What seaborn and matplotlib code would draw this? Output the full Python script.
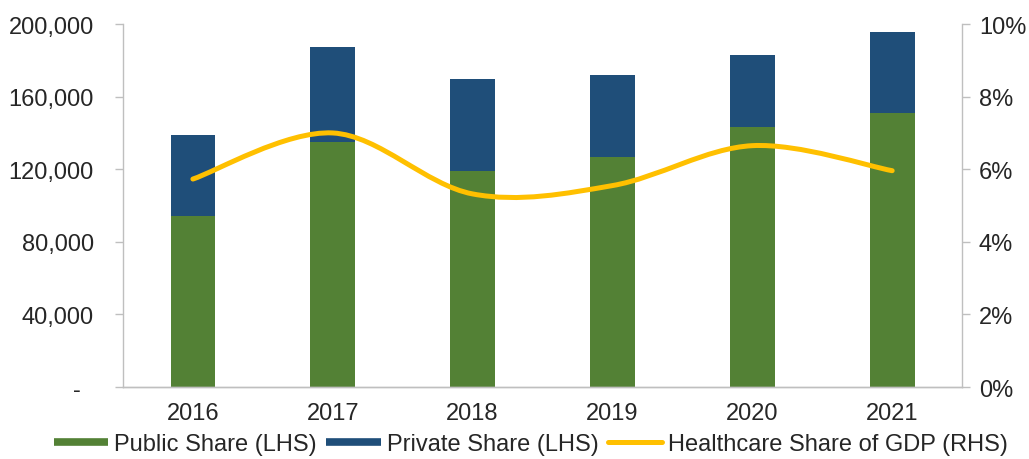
import numpy as np
import pandas as pd
import matplotlib
matplotlib.use("Agg")
import matplotlib.pyplot as plt
import seaborn as sns
from matplotlib.lines import Line2D
from matplotlib.path import Path
from matplotlib.patches import PathPatch
from matplotlib.ticker import FuncFormatter

# Healthcare expenditure split (LHS) and healthcare share of GDP (RHS)
years = ["2016", "2017", "2018", "2019", "2020", "2021"]
public_share = [94200, 134800, 119200, 126900, 143200, 150800]
private_share = [44600, 52500, 50500, 45000, 39700, 44600]
gdp_share = [5.73, 7.00, 5.32, 5.55, 6.65, 5.96]

GREEN = "#538135"
BLUE = "#1F4E79"
YELLOW = "#FFC000"
SPINE = "#BFBFBF"
TEXT = "#262626"
FS = 17

sns.set_theme(style="white")
plt.rcParams["font.family"] = ["Liberation Sans", "DejaVu Sans"]

fig = plt.figure(figsize=(10.29, 4.6), dpi=100)
ax = fig.add_axes([0.1195, 0.1565, 0.8155, 0.789])

df = pd.DataFrame({
    "year": years,
    "public": public_share,
    "total": np.add(public_share, private_share),
})

# stacked bars: full height in blue, public part drawn over it in green
sns.barplot(data=df, x="year", y="total", color=BLUE, width=0.32,
            saturation=1, linewidth=0, ax=ax)
sns.barplot(data=df, x="year", y="public", color=GREEN, width=0.32,
            saturation=1, linewidth=0, ax=ax)

ax.set_xlim(-0.5, 5.5)
ax.set_ylim(0, 200000)
ax.set_yticks(np.arange(0, 200001, 40000))
ax.yaxis.set_major_formatter(FuncFormatter(lambda v, p: "-  " if v == 0 else f"{v:,.0f}"))
ax.set_xlabel("")
ax.set_ylabel("")

# secondary axis with a smoothed line (cubic Bezier through the yearly values)
ax2 = ax.twinx()
ax2.set_ylim(0, 10)
ax2.set_yticks(np.arange(0, 11, 2))
ax2.yaxis.set_major_formatter(FuncFormatter(lambda v, p: f"{v:.0f}%"))

xs = np.arange(len(gdp_share), dtype=float)
ys = np.asarray(gdp_share, dtype=float)
pts = np.column_stack([xs, ys])
ext = np.vstack([pts[0], pts, pts[-1]])
verts = [tuple(pts[0])]
codes = [Path.MOVETO]
for i in range(len(pts) - 1):
    p0, p1, p2, p3 = ext[i], ext[i + 1], ext[i + 2], ext[i + 3]
    c1 = p1 + (p2 - p0) / 6.0
    c2 = p2 - (p3 - p1) / 6.0
    verts += [tuple(c1), tuple(c2), tuple(p2)]
    codes += [Path.CURVE4] * 3
ax2.add_patch(PathPatch(Path(verts, codes), facecolor="none", edgecolor=YELLOW,
                        linewidth=3.6, capstyle="round", joinstyle="round"))

for a in (ax, ax2):
    for side in ("left", "right", "bottom"):
        a.spines[side].set_color(SPINE)
        a.spines[side].set_linewidth(1.0)
    a.spines["top"].set_visible(False)
    a.grid(False)

ax.spines["right"].set_visible(False)
ax2.spines["left"].set_visible(False)

ax.tick_params(axis="y", which="both", left=True, direction="out", length=6,
               width=1, color=SPINE, labelsize=FS, labelcolor=TEXT, pad=15)
ax.tick_params(axis="x", length=0, labelsize=FS, labelcolor=TEXT, pad=11)
ax2.tick_params(axis="y", which="both", right=True, direction="out", length=6,
                width=1, color=SPINE, labelsize=FS, labelcolor=TEXT, pad=6)

handles = [
    Line2D([0], [0], color=GREEN, lw=5.5, solid_capstyle="butt"),
    Line2D([0], [0], color=BLUE, lw=5.5, solid_capstyle="butt"),
    Line2D([0], [0], color=YELLOW, lw=3.6, solid_capstyle="round"),
]
labels = ["Public Share (LHS)", "Private Share (LHS)", "Healthcare Share of GDP (RHS)"]
fig.legend(handles, labels, loc="center", bbox_to_anchor=(0.516, 0.033), ncol=3,
           frameon=False, fontsize=FS, handlelength=2.3, handletextpad=0.25,
           columnspacing=0.4, borderaxespad=0, labelcolor=TEXT)

fig.savefig("out.png", dpi=100)
